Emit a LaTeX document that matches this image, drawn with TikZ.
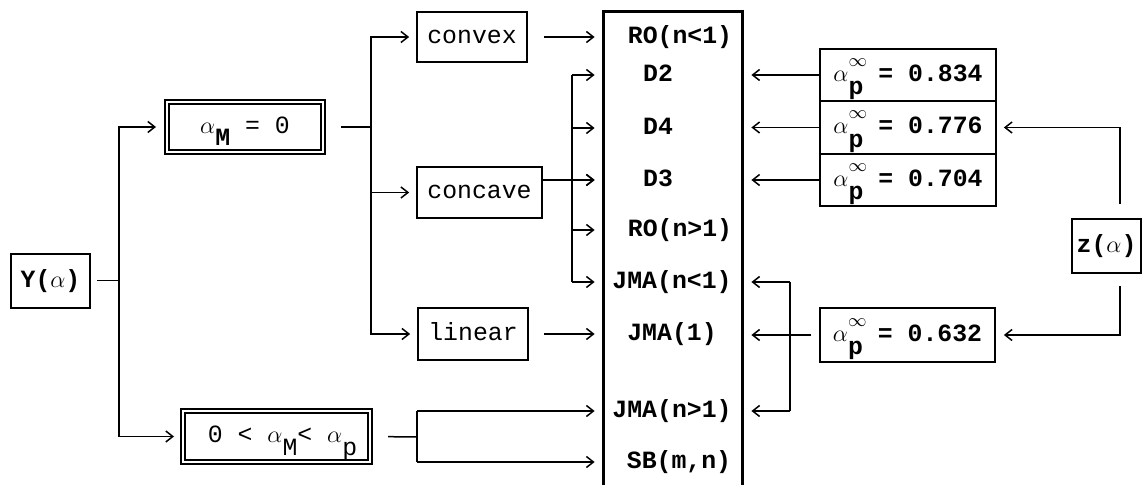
\documentclass[tikz,border=0pt]{standalone}
\usepackage{fontspec}
\usetikzlibrary{arrows.meta,calc}
\newfontfamily\cour{Liberation Mono}
\newcommand\apinf{$\alpha$\makebox[0pt][l]{\raisebox{0.6em}{\fontsize{9}{9}\selectfont$\infty$}}\raisebox{-0.55em}{p}}
\newcommand\asub[1]{$\alpha$\raisebox{-0.5em}{#1}}
\begin{document}
\begin{tikzpicture}[x=0.5pt,y=-0.5pt,
  lbl/.style={font=\cour\fontsize{12.4}{14}\selectfont, text height=8.7pt, text depth=2.5pt, inner sep=0pt},
  bx/.style={lbl, draw, line width=0.85pt},
  tbx/.style={lbl, draw, line width=1.1pt},
  dbx/.style={lbl, draw, line width=1pt, double, double distance=1pt},
  conn/.style={line width=0.75pt},
  arr/.style={conn, -{Straight Barb[length=3.5pt,width=5.5pt]}}]
\useasboundingbox (0,0) rectangle (1143,485);

% left boxes
\node[tbx, minimum width=39.5pt, minimum height=27pt] (y) at (50.5,281) {\bfseries Y($\alpha$)};
\node[dbx, minimum width=78pt, minimum height=25pt] (am) at (245,127) {\asub{\bfseries M} = 0\hspace{6pt}};
\node[dbx, minimum width=93.5pt, minimum height=25.5pt] (lo) at (276.5,436.5) {\hspace{6pt}0 < \asub{M}< \asub{p}};
\node[bx, minimum width=55pt, minimum height=25pt] (cvx) at (472,37) {convex};
\node[bx, minimum width=62.5pt, minimum height=25.5pt] (ccv) at (479.5,192.5) {concave};
\node[bx, minimum width=55pt, minimum height=26pt] (lin) at (473,334) {linear};

% main box
\node[inner sep=0pt, minimum width=69pt, minimum height=236.5pt, anchor=north] (main) at (673,12) {};
\draw[line width=1.5pt] (main.south west) -- (main.north west) -- (main.north east) -- (main.south east);
\node[lbl] (r1) at (680,37) {\bfseries RO(n<1)};
\node[lbl] (d2) at (658,75) {\bfseries D2};
\node[lbl] (d4) at (658,128) {\bfseries D4};
\node[lbl] (d3) at (658,180) {\bfseries D3};
\node[lbl] (ro2) at (680,230) {\bfseries RO(n>1)};
\node[lbl] (jn1) at (672,282) {\bfseries JMA(n<1)};
\node[lbl] (jm1) at (672,334) {\bfseries JMA(1)};
\node[lbl] (jn2) at (672,411) {\bfseries JMA(n>1)};
\node[lbl] (sb) at (679,462) {\bfseries SB(m,n)};

% right boxes
\node[bx, minimum width=88pt, minimum height=26pt] (p1) at (908,75) {\bfseries\apinf\ = 0.834};
\node[bx, minimum width=88pt, minimum height=26pt] (p2) at (908,127.5) {\bfseries\apinf\ = 0.776};
\node[bx, minimum width=88pt, minimum height=26pt] (p3) at (908,180) {\bfseries\apinf\ = 0.704};
\node[bx, minimum width=87.5pt, minimum height=27pt] (p4) at (907.5,335) {\bfseries\apinf\ = 0.632};
\node[tbx, minimum width=34.5pt, minimum height=27pt] (z) at (1106.5,246) {\bfseries z($\alpha$)};

% connectors left
\coordinate (j1) at (119,281);
\draw[conn, line width=0.5pt, shorten <=3pt] (y.east) -- (j1);
\draw[arr, shorten >=5pt] (j1) |- (am.west);
\draw[arr, shorten >=4pt] (j1) |- (lo.west);
\coordinate (j2) at (371,127);
\draw[conn, shorten <=8.5pt] (am.east) -- (j2);
\draw[arr, shorten >=3.5pt] (j2) |- (cvx.west);
\draw[arr, shorten >=3.5pt] (j2) |- (ccv.west);
\draw[arr, shorten >=3.5pt] (j2) |- (lin.west);

\draw[arr, shorten <=8pt, shorten >=4.5pt] (cvx.east) -- (cvx.east -| main.west);
\draw[arr, shorten >=4.5pt] (ccv.east |- d3) -- (d3 -| main.west);
\coordinate (fa) at (572,0);
\draw[conn] (fa |- d2) -- (fa |- jn1);
\foreach \r in {d2,d4,d3,ro2,jn1}
  \draw[arr, shorten >=4.5pt] (fa |- \r) -- (\r -| main.west);
\draw[arr, shorten <=7.5pt, shorten >=4.5pt] (lin.east) -- (lin.east -| main.west);

\coordinate (j3) at (417,437);
\draw[conn, shorten <=8.5pt] (lo.east) -- (j3);
\draw[conn] (j3 |- jn2) -- (j3 |- sb);
\foreach \r in {jn2,sb}
  \draw[arr, shorten >=4.5pt] (j3 |- \r) -- (\r -| main.west);

% connectors right
\foreach \p/\r in {p1/d2,p2/d4,p3/d3}
  \draw[arr, shorten >=4.5pt] (\p.west) -- (\p.west -| main.east);
\coordinate (j4) at (790,335);
\draw[arr, shorten <=4pt, shorten >=4.5pt] (p4.west) -- (p4.west -| main.east);
\draw[conn] (j4 |- jn1) -- (j4 |- jn2);
\foreach \r in {jn1,jn2}
  \draw[arr, shorten >=4.5pt] (j4 |- \r) -- (\r -| main.east);

\coordinate (zx) at (1120,0);
\draw[arr, shorten <=7pt, shorten >=3.5pt] (zx |- z.north) |- (p2.east);
\draw[arr, shorten <=6pt, shorten >=4pt] (zx |- z.south) |- (p4.east);
\end{tikzpicture}
\end{document}
